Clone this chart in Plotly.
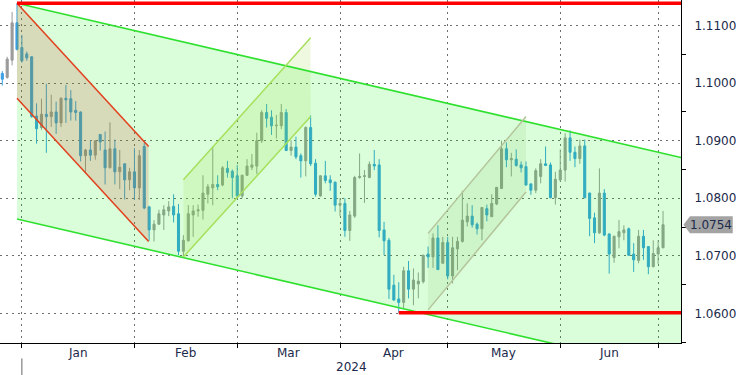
import plotly.graph_objects as go
import pandas as pd

# ---------------- data ----------------
dates = pd.bdate_range("2023-12-25", "2024-07-01").strftime("%Y-%m-%d").tolist()

opens = [
    1.1017, 1.1010, 1.1040, 1.1105, 1.1062, 1.1051, 1.1046, 1.0943, 1.0923, 1.0946,
    1.0942, 1.0950, 1.0931, 1.0974, 1.0973, 1.0953, 1.0950, 1.0874, 1.0884, 1.0875,
    1.0911, 1.0884, 1.0853, 1.0886, 1.0846, 1.0860, 1.0832, 1.0846, 1.0818, 1.0890,
    1.0785, 1.0745, 1.0755, 1.0771, 1.0778, 1.0786, 1.0773, 1.0708, 1.0726, 1.0771,
    1.0778, 1.0779, 1.0807, 1.0818, 1.0824, 1.0823, 1.0852, 1.0847, 1.0839, 1.0804,
    1.0840, 1.0854, 1.0856, 1.0900, 1.0949, 1.0941, 1.0926, 1.0926, 1.0949, 1.0883,
    1.0889, 1.0874, 1.0865, 1.0923, 1.0861, 1.0804, 1.0839, 1.0832, 1.0828, 1.0788,
    1.0791, 1.0744, 1.0769, 1.0836, 1.0838, 1.0836, 1.0859, 1.0858, 1.0745, 1.0727,
    1.0649, 1.0625, 1.0619, 1.0674, 1.0642, 1.0651, 1.0655, 1.0703, 1.0698, 1.0731,
    1.0687, 1.0723, 1.0665, 1.0712, 1.0725, 1.0759, 1.0769, 1.0755, 1.0747, 1.0782,
    1.0768, 1.0790, 1.0817, 1.0886, 1.0867, 1.0868, 1.0858, 1.0855, 1.0825, 1.0814,
    1.0838, 1.0860, 1.0858, 1.0801, 1.0832, 1.0849, 1.0905, 1.0880, 1.0869, 1.0891,
    1.0809, 1.0766, 1.0740, 1.0809, 1.0738, 1.0697, 1.0733, 1.0740, 1.0747, 1.0703,
    1.0692, 1.0734, 1.0716, 1.0681, 1.0703, 1.0714]

highs = [
    1.1021, 1.1046, 1.1124, 1.1139, 1.1084, 1.1055, 1.1047, 1.0965, 1.0973, 1.0999,
    1.0980, 1.0968, 1.0975, 1.0997, 1.0988, 1.0969, 1.0951, 1.0886, 1.0901, 1.0901,
    1.0911, 1.0916, 1.0932, 1.0902, 1.0884, 1.0860, 1.0853, 1.0887, 1.0884, 1.0896,
    1.0787, 1.0762, 1.0780, 1.0788, 1.0795, 1.0807, 1.0790, 1.0736, 1.0788, 1.0788,
    1.0789, 1.0840, 1.0825, 1.0890, 1.0840, 1.0856, 1.0865, 1.0850, 1.0858, 1.0841,
    1.0868, 1.0877, 1.0914, 1.0953, 1.0964, 1.0953, 1.0945, 1.0964, 1.0955, 1.0901,
    1.0907, 1.0878, 1.0925, 1.0944, 1.0868, 1.0840, 1.0865, 1.0840, 1.0829, 1.0800,
    1.0800, 1.0778, 1.0839, 1.0878, 1.0849, 1.0864, 1.0884, 1.0868, 1.0759, 1.0731,
    1.0667, 1.0654, 1.0681, 1.0691, 1.0678, 1.0671, 1.0702, 1.0716, 1.0739, 1.0753,
    1.0733, 1.0733, 1.0733, 1.0733, 1.0813, 1.0791, 1.0788, 1.0758, 1.0784, 1.0789,
    1.0807, 1.0819, 1.0900, 1.0897, 1.0879, 1.0885, 1.0864, 1.0864, 1.0826, 1.0852,
    1.0868, 1.0890, 1.0862, 1.0846, 1.0885, 1.0913, 1.0918, 1.0890, 1.0902, 1.0902,
    1.0810, 1.0775, 1.0852, 1.0816, 1.0739, 1.0735, 1.0762, 1.0753, 1.0749, 1.0722,
    1.0745, 1.0745, 1.0717, 1.0727, 1.0727, 1.0778]

lows = [
    1.0996, 1.1008, 1.1031, 1.1057, 1.1036, 1.1039, 1.0940, 1.0895, 1.0919, 1.0879,
    1.0924, 1.0912, 1.0924, 1.0931, 1.0935, 1.0935, 1.0864, 1.0843, 1.0865, 1.0867,
    1.0883, 1.0824, 1.0852, 1.0824, 1.0816, 1.0798, 1.0814, 1.0797, 1.0797, 1.0781,
    1.0726, 1.0725, 1.0754, 1.0745, 1.0769, 1.0758, 1.0701, 1.0698, 1.0725, 1.0733,
    1.0768, 1.0763, 1.0791, 1.0788, 1.0814, 1.0821, 1.0836, 1.0800, 1.0800, 1.0800,
    1.0839, 1.0849, 1.0842, 1.0896, 1.0923, 1.0910, 1.0904, 1.0920, 1.0882, 1.0874,
    1.0868, 1.0836, 1.0838, 1.0856, 1.0803, 1.0803, 1.0826, 1.0813, 1.0777, 1.0769,
    1.0733, 1.0726, 1.0766, 1.0834, 1.0792, 1.0835, 1.0849, 1.0732, 1.0701, 1.0625,
    1.0622, 1.0601, 1.0609, 1.0626, 1.0614, 1.0626, 1.0652, 1.0679, 1.0679, 1.0676,
    1.0687, 1.0659, 1.0652, 1.0675, 1.0723, 1.0751, 1.0749, 1.0737, 1.0727, 1.0760,
    1.0768, 1.0788, 1.0816, 1.0854, 1.0838, 1.0855, 1.0845, 1.0822, 1.0806, 1.0809,
    1.0826, 1.0856, 1.0800, 1.0789, 1.0829, 1.0829, 1.0865, 1.0854, 1.0860, 1.0800,
    1.0734, 1.0722, 1.0738, 1.0734, 1.0669, 1.0688, 1.0713, 1.0727, 1.0700, 1.0672,
    1.0687, 1.0693, 1.0668, 1.0680, 1.0686, 1.0713]

closes = [
    1.1007, 1.1042, 1.1105, 1.1059, 1.1039, 1.1044, 1.0942, 1.0921, 1.0946, 1.0942,
    1.0950, 1.0931, 1.0974, 1.0971, 1.0950, 1.0949, 1.0874, 1.0884, 1.0875, 1.0900,
    1.0898, 1.0853, 1.0886, 1.0846, 1.0854, 1.0832, 1.0846, 1.0818, 1.0874, 1.0783,
    1.0745, 1.0755, 1.0773, 1.0780, 1.0785, 1.0771, 1.0708, 1.0727, 1.0773, 1.0778,
    1.0780, 1.0809, 1.0820, 1.0824, 1.0820, 1.0853, 1.0845, 1.0836, 1.0804, 1.0840,
    1.0856, 1.0858, 1.0900, 1.0949, 1.0939, 1.0926, 1.0927, 1.0949, 1.0883, 1.0889,
    1.0872, 1.0865, 1.0923, 1.0860, 1.0807, 1.0839, 1.0831, 1.0827, 1.0788, 1.0791,
    1.0744, 1.0771, 1.0836, 1.0838, 1.0839, 1.0859, 1.0856, 1.0744, 1.0726, 1.0642,
    1.0623, 1.0619, 1.0674, 1.0642, 1.0658, 1.0656, 1.0701, 1.0698, 1.0731, 1.0676,
    1.0723, 1.0665, 1.0714, 1.0725, 1.0762, 1.0769, 1.0754, 1.0747, 1.0784, 1.0771,
    1.0791, 1.0819, 1.0886, 1.0867, 1.0869, 1.0857, 1.0853, 1.0823, 1.0814, 1.0848,
    1.0860, 1.0857, 1.0801, 1.0833, 1.0849, 1.0905, 1.0880, 1.0869, 1.0891, 1.0801,
    1.0765, 1.0740, 1.0809, 1.0736, 1.0703, 1.0734, 1.0742, 1.0745, 1.0701, 1.0693,
    1.0734, 1.0714, 1.0681, 1.0704, 1.0714, 1.0754]

# month boundaries (trading-day index of month-end gridlines) and labels
month_end_idx = [4, 27, 48, 69, 91, 114, 134]
month_labels = ["Jan", "Feb", "Mar", "Apr", "May", "Jun"]
year_label = "2024"
year_start_idx = 4
y_ticks = [1.06, 1.07, 1.08, 1.09, 1.10, 1.11]
last_price = 1.0754

# drawn analysis objects (trading-day index, price)
green_channel = dict(x=[3, 135], top=[1.1139, 1.0878], width=0.0375)
red_channel = dict(x=[3, 29.9], top=[1.1139, 1.0890], width=0.0165)
feb_channel = dict(x=[37, 63], top=[1.0832, 1.1079], bottom=[1.0698, 1.0942])
may_channel = dict(x=[87, 107], top=[1.0739, 1.0942], bottom=[1.0606, 1.0811])
resistance = dict(x0=3, level=1.1139)
support = dict(x0=81, level=1.0601)

# ---------------- styling ----------------
BULL = "#9a9a9a"
BEAR = "#3a9fe2"
TXT = "#1b2a4a"
FONT = "DejaVu Sans"
X_RANGE = [-0.47, 138.67]
Y_RANGE = [1.05484, 1.11447]
PLOT_W = 684.0

idx = list(range(len(closes)))

fig = go.Figure()
fig.add_trace(go.Candlestick(
    x=idx, open=opens, high=highs, low=lows, close=closes, text=dates,
    increasing=dict(line=dict(color=BULL, width=1), fillcolor=BULL),
    decreasing=dict(line=dict(color=BEAR, width=1), fillcolor=BEAR),
    whiskerwidth=0, showlegend=False, hoverinfo="text+y"))

# arrow markers at the right price axis ticks
fig.add_trace(go.Scatter(
    x=[X_RANGE[1] + 0.85] * len(y_ticks), y=y_ticks, mode="markers",
    marker=dict(symbol="triangle-right", size=8, color="black"),
    cliponaxis=False, showlegend=False, hoverinfo="skip"))

shapes = []


def band(x0, x1, t0, t1, b0, b1, fill):
    shapes.append(dict(type="path", xref="x", yref="y", layer="above",
                       path=f"M {x0},{t0} L {x1},{t1} L {x1},{b1} L {x0},{b0} Z",
                       fillcolor=fill, line=dict(width=0)))


def seg(x0, y0, x1, y1, color, width):
    shapes.append(dict(type="line", xref="x", yref="y", layer="above",
                       x0=x0, y0=y0, x1=x1, y1=y1,
                       line=dict(color=color, width=width)))


# big descending green channel, extended to the right edge
gx0, gx1 = green_channel["x"]
gt0, gt1 = green_channel["top"]
g_slope = (gt1 - gt0) / (gx1 - gx0)
g_right = gt0 + g_slope * (X_RANGE[1] - gx0)
gw = green_channel["width"]
band(gx0, X_RANGE[1], gt0, g_right, gt0 - gw, g_right - gw, "rgba(0,245,0,0.15)")

# January descending (red) channel
rx0, rx1 = red_channel["x"]
rt0, rt1 = red_channel["top"]
rw = red_channel["width"]
band(rx0, rx1, rt0, rt1, rt0 - rw, rt1 - rw, "rgba(215,80,60,0.20)")

# February rising channel
fx0, fx1 = feb_channel["x"]
band(fx0, fx1, feb_channel["top"][0], feb_channel["top"][1],
     feb_channel["bottom"][0], feb_channel["bottom"][1], "rgba(150,215,60,0.16)")

# May rising channel
mx0, mx1 = may_channel["x"]
band(mx0, mx1, may_channel["top"][0], may_channel["top"][1],
     may_channel["bottom"][0], may_channel["bottom"][1], "rgba(120,185,90,0.12)")

# channel border lines
seg(gx0, gt0, X_RANGE[1], g_right, "#2fe02f", 1.6)
seg(gx0, gt0 - gw, X_RANGE[1], g_right - gw, "#2fe02f", 1.6)
seg(rx0, rt0, rx1, rt1, "#e2401e", 1.5)
seg(rx0, rt0 - rw, rx1, rt1 - rw, "#e2401e", 1.5)
seg(fx0, feb_channel["top"][0], fx1, feb_channel["top"][1], "#a6e05c", 1.5)
seg(fx0, feb_channel["bottom"][0], fx1, feb_channel["bottom"][1], "#a6e05c", 1.5)
seg(mx0, may_channel["top"][0], mx1, may_channel["top"][1], "#b4c49a", 1.5)
seg(mx0, may_channel["bottom"][0], mx1, may_channel["bottom"][1], "#b4c49a", 1.5)

# horizontal resistance / support
seg(resistance["x0"], resistance["level"], X_RANGE[1], resistance["level"], "#ff0000", 3.5)
seg(support["x0"], support["level"], X_RANGE[1], support["level"], "#ff0000", 3.5)

# year separator below the axis
shapes.append(dict(type="line", xref="x", yref="paper", x0=year_start_idx, x1=year_start_idx,
                   y0=-0.045, y1=-0.095, line=dict(color="#666666", width=1)))

# current price tag on the price axis
half = 8.5 / (343.0 / (Y_RANGE[1] - Y_RANGE[0]))
tip, body_l, body_r = 686.5 / PLOT_W, 693.0 / PLOT_W, 736.0 / PLOT_W
shapes.append(dict(type="path", xref="paper", yref="y", layer="above",
                   path=(f"M {tip},{last_price} L {body_l},{last_price + half} "
                         f"L {body_r},{last_price + half} L {body_r},{last_price - half} "
                         f"L {body_l},{last_price - half} Z"),
                   fillcolor="#a3a3a3", line=dict(width=0)))

annotations = []
for a, b, lab in zip(month_end_idx[:-1], month_end_idx[1:], month_labels):
    annotations.append(dict(x=(a + b) / 2, y=-0.029, xref="x", yref="paper", text=lab,
                            showarrow=False, xanchor="center", yanchor="middle",
                            font=dict(family=FONT, size=12, color=TXT)))
annotations.append(dict(x=(year_start_idx + X_RANGE[1]) / 2, y=-0.071, xref="x", yref="paper",
                        text=year_label, showarrow=False, xanchor="center", yanchor="middle",
                        font=dict(family=FONT, size=12, color=TXT)))
annotations.append(dict(x=(body_l + body_r) / 2, y=last_price, xref="paper", yref="y",
                        text=f"{last_price:.4f}", showarrow=False, xanchor="center",
                        yanchor="middle", font=dict(family=FONT, size=12, color=TXT)))

fig.update_layout(
    width=736, height=375,
    margin=dict(l=0, r=52, t=0, b=32),
    paper_bgcolor="white", plot_bgcolor="white",
    showlegend=False, boxgap=0.4,
    shapes=shapes, annotations=annotations,
    xaxis=dict(range=X_RANGE, rangeslider=dict(visible=False),
               tickmode="array", tickvals=month_end_idx, ticktext=[""] * len(month_end_idx),
               showgrid=True, gridcolor="#6e6e6e", griddash="2px,4px", gridwidth=1,
               ticks="outside", ticklen=4, tickcolor="black",
               showline=True, linecolor="black", linewidth=1, zeroline=False),
    yaxis=dict(side="right", range=Y_RANGE, tickmode="linear", tick0=1.06, dtick=0.01,
               tickformat=".4f", showgrid=True, gridcolor="#6e6e6e", griddash="2px,4px",
               gridwidth=1, ticks="", ticklabelstandoff=10,
               tickfont=dict(family=FONT, size=12, color=TXT),
               minor=dict(dtick=0.005, tick0=1.055, ticks="outside", ticklen=4,
                          tickcolor="black", showgrid=False),
               showline=True, linecolor="black", linewidth=1, zeroline=False),
)

fig.write_html(
    "out.html",
    config={"displayModeBar": False},
    post_script="document.body.style.margin='0';document.body.style.overflow='hidden';",
)
